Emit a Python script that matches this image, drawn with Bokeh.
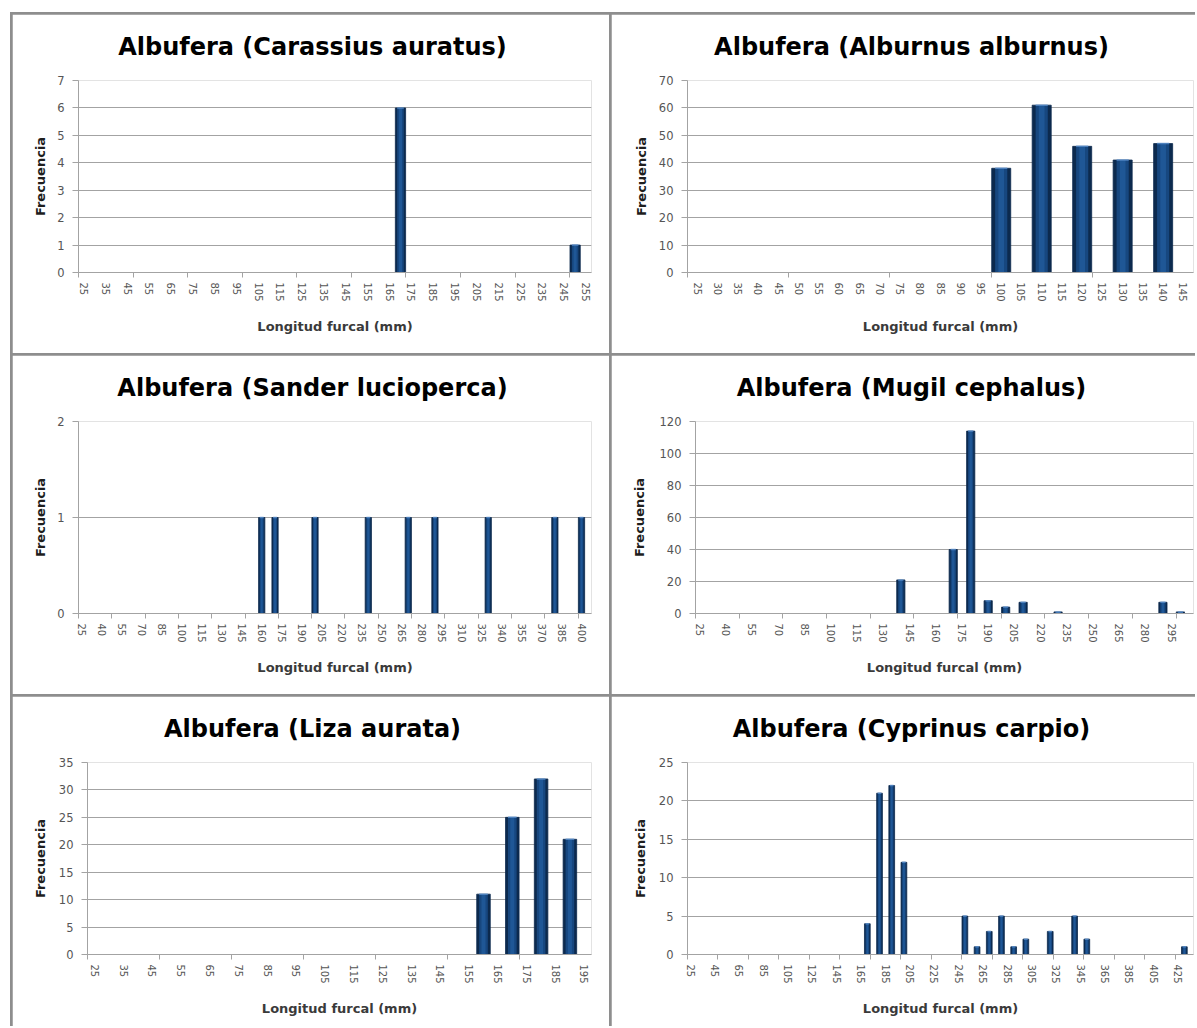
from bokeh.plotting import figure
from bokeh.models import Range1d, FixedTicker, Title, GridBox
from bokeh.embed import file_html
from bokeh.resources import INLINE

# ---------------- data (length classes of 5 mm, frequency per class) ----------------
BIN_MM = 5

carassius_title = "Albufera (Carassius auratus)"
carassius_classes = (25, 255)
carassius_len = [170, 250]
carassius_freq = [6, 1]
carassius_xlabels = [25, 35, 45, 55, 65, 75, 85, 95, 105, 115, 125, 135, 145, 155,
                     165, 175, 185, 195, 205, 215, 225, 235, 245, 255]
carassius_yticks = [0, 1, 2, 3, 4, 5, 6, 7]

alburnus_title = "Albufera (Alburnus alburnus)"
alburnus_classes = (25, 145)
alburnus_len = [100, 110, 120, 130, 140]
alburnus_freq = [38, 61, 46, 41, 47]
alburnus_xlabels = [25, 30, 35, 40, 45, 50, 55, 60, 65, 70, 75, 80, 85, 90, 95, 100,
                    105, 110, 115, 120, 125, 130, 135, 140, 145]
alburnus_yticks = [0, 10, 20, 30, 40, 50, 60, 70]

sander_title = "Albufera (Sander lucioperca)"
sander_classes = (25, 405)
sander_len = [160, 170, 200, 240, 270, 290, 330, 380, 400]
sander_freq = [1, 1, 1, 1, 1, 1, 1, 1, 1]
sander_xlabels = [25, 40, 55, 70, 85, 100, 115, 130, 145, 160, 175, 190, 205, 220,
                  235, 250, 265, 280, 295, 310, 325, 340, 355, 370, 385, 400]
sander_yticks = [0, 1, 2]

mugil_title = "Albufera (Mugil cephalus)"
mugil_classes = (25, 305)
mugil_len = [140, 170, 180, 190, 200, 210, 230, 290, 300]
mugil_freq = [21, 40, 114, 8, 4, 7, 1, 7, 1]
mugil_xlabels = [25, 40, 55, 70, 85, 100, 115, 130, 145, 160, 175, 190, 205, 220,
                 235, 250, 265, 280, 295]
mugil_yticks = [0, 20, 40, 60, 80, 100, 120]

liza_title = "Albufera (Liza aurata)"
liza_classes = (25, 195)
liza_len = [160, 170, 180, 190]
liza_freq = [11, 25, 32, 21]
liza_xlabels = [25, 35, 45, 55, 65, 75, 85, 95, 105, 115, 125, 135, 145, 155, 165,
                175, 185, 195]
liza_yticks = [0, 5, 10, 15, 20, 25, 30, 35]

cyprinus_title = "Albufera (Cyprinus carpio)"
cyprinus_classes = (25, 435)
cyprinus_len = [170, 180, 190, 200, 250, 260, 270, 280, 290, 300, 320, 340, 350, 430]
cyprinus_freq = [4, 21, 22, 12, 5, 1, 3, 5, 1, 2, 3, 5, 2, 1]
cyprinus_xlabels = [25, 45, 65, 85, 105, 125, 145, 165, 185, 205, 225, 245, 265, 285,
                    305, 325, 345, 365, 385, 405, 425]
cyprinus_yticks = [0, 5, 10, 15, 20, 25]

X_TITLE = "Longitud furcal (mm)"
Y_TITLE = "Frecuencia"

# ---------------- style ----------------
FONT = "DejaVu Sans"
GRID = "#a3a3a3"
TICK_TXT = "#555555"
BAR_EDGE = "#0c2a4e"
BAR_MID = "#17477f"
BAR_CORE = "#1f5796"
BAR_CAP = "#5a8fcc"
FRAME_H = 192
TOP = 66
TITLE_PX = 24
TITLE_CENTER = 300  # px from the figure's left edge

# approximate advance widths (em) of DejaVu Sans Bold, to centre the title on the panel
_W = {" ": 0.348, "(": 0.457, ")": 0.457, "A": 0.774, "C": 0.734, "L": 0.637, "M": 0.995,
      "S": 0.721, "a": 0.675, "b": 0.716, "c": 0.593, "d": 0.716, "e": 0.678, "f": 0.435,
      "g": 0.716, "h": 0.712, "i": 0.343, "l": 0.343, "n": 0.712, "o": 0.687, "p": 0.716,
      "r": 0.493, "s": 0.595, "t": 0.478, "u": 0.712, "y": 0.652, "z": 0.582}


def text_width(s, px):
    return sum(_W.get(ch, 0.65) for ch in s) * px


def panel(title, classes, lens, freqs, xlabels, yticks, w, h, mb_left, mb_right,
          ylab_standoff):
    first, last = classes
    half = BIN_MM / 2
    nclass = int((last - first) / BIN_MM) + 1
    class_px = (w - mb_left - mb_right) / nclass

    p = figure(width=w, height=h, output_backend="svg", toolbar_location=None, tools="",
               x_range=Range1d(first - half, last + half),
               y_range=Range1d(yticks[0], yticks[-1]),
               min_border_left=mb_left, min_border_right=mb_right,
               min_border_top=TOP, min_border_bottom=h - TOP - FRAME_H,
               frame_align=False)
    p.outline_line_color = None
    p.background_fill_color = "white"
    p.border_fill_color = "white"

    p.title = Title(text=title, align="left", vertical_align="top",
                    offset=TITLE_CENTER - mb_left - text_width(title, TITLE_PX) / 2,
                    standoff=35, text_font=FONT, text_font_style="bold",
                    text_font_size=f"{TITLE_PX}px", text_color="#000000")

    # bars (with a simple bevel look)
    p.vbar(x=lens, top=freqs, bottom=0, width=BIN_MM * 0.94, fill_color=BAR_EDGE,
           line_color=BAR_EDGE, line_width=0.8)
    p.vbar(x=lens, top=freqs, bottom=0, width=BIN_MM * 0.6, fill_color=BAR_MID,
           line_color=None)
    p.vbar(x=lens, top=freqs, bottom=0, width=BIN_MM * 0.28, fill_color=BAR_CORE,
           line_color=None)
    p.scatter(x=lens, y=freqs, marker="dash", size=class_px * 0.6, line_color=BAR_CAP,
              line_width=1.5, line_alpha=0.8)

    # x axis: labels on classes, tick marks every 5 classes on class boundaries
    bounds = [first - half + k * 5 * BIN_MM for k in range(nclass // 5 + 1)
              if first - half + k * 5 * BIN_MM < last + half - 0.01]
    xa = p.xaxis[0]
    xa.ticker = FixedTicker(ticks=xlabels, minor_ticks=bounds)
    xa.major_tick_line_color = None
    xa.major_tick_in = 0
    xa.major_tick_out = 5
    xa.minor_tick_in = 0
    xa.minor_tick_out = 5
    xa.minor_tick_line_color = GRID
    xa.minor_tick_line_width = 1
    xa.axis_line_color = GRID
    xa.axis_line_width = 1
    xa.major_label_orientation = "vertical"
    xa.major_label_standoff = 5
    xa.major_label_text_font = FONT
    xa.major_label_text_font_size = "10px"
    xa.major_label_text_color = TICK_TXT
    xa.axis_label = X_TITLE
    xa.axis_label_standoff = 14
    xa.axis_label_text_font = FONT
    xa.axis_label_text_font_size = "13px"
    xa.axis_label_text_font_style = "bold"
    xa.axis_label_text_color = "#3a3a3a"
    p.xgrid.visible = False

    ya = p.yaxis[0]
    ya.ticker = FixedTicker(ticks=yticks, minor_ticks=[])
    ya.major_tick_in = 0
    ya.major_tick_out = 6
    ya.major_tick_line_color = GRID
    ya.minor_tick_line_color = None
    ya.axis_line_color = GRID
    ya.major_label_standoff = 8
    ya.major_label_text_font = FONT
    ya.major_label_text_font_size = "11.5px"
    ya.major_label_text_color = TICK_TXT
    ya.axis_label = Y_TITLE
    ya.axis_label_standoff = ylab_standoff
    ya.axis_label_text_font = FONT
    ya.axis_label_text_font_size = "13px"
    ya.axis_label_text_font_style = "bold"
    ya.axis_label_text_color = "#1e1e1e"
    p.ygrid.ticker = FixedTicker(ticks=yticks, minor_ticks=[])
    p.ygrid.grid_line_color = GRID
    p.ygrid.grid_line_width = 1
    return p


LW, RW = 597, 584
H1, H3 = 339, 330

p1 = panel(carassius_title, carassius_classes, carassius_len, carassius_freq,
           carassius_xlabels, carassius_yticks, LW, H1, 66, 18, 6)
p2 = panel(alburnus_title, alburnus_classes, alburnus_len, alburnus_freq,
           alburnus_xlabels, alburnus_yticks, RW, H1, 76, 2, 7)
p3 = panel(sander_title, sander_classes, sander_len, sander_freq,
           sander_xlabels, sander_yticks, LW, H1, 66, 18, 6)
p4 = panel(mugil_title, mugil_classes, mugil_len, mugil_freq,
           mugil_xlabels, mugil_yticks, RW, H1, 84, 2, 10)
p5 = panel(liza_title, liza_classes, liza_len, liza_freq,
           liza_xlabels, liza_yticks, LW, H3, 75, 18, 8)
p6 = panel(cyprinus_title, cyprinus_classes, cyprinus_len, cyprinus_freq,
           cyprinus_xlabels, cyprinus_yticks, RW, H3, 76, 2, 8)

grid = GridBox(children=[(p1, 0, 0), (p2, 0, 1), (p3, 1, 0), (p4, 1, 1), (p5, 2, 0), (p6, 2, 1)],
               spacing=2,
               styles={"background-color": "#8e8e8e", "padding": "2px 0px 0px 2px",
                       "margin": "12px 0px 0px 10px"})

open("out.html", "w").write(file_html(grid, INLINE))
